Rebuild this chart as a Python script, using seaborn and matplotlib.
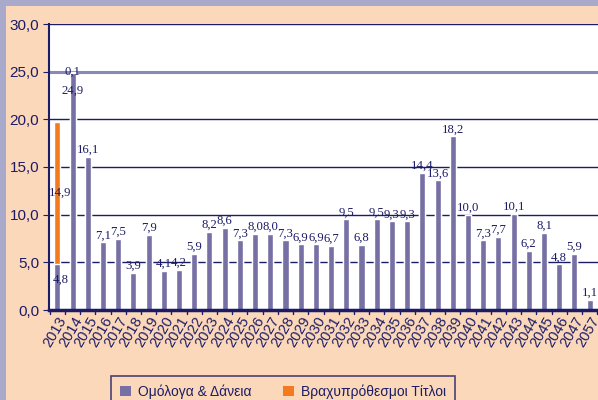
import pandas as pd
import matplotlib
matplotlib.use("Agg")
import matplotlib.pyplot as plt
import matplotlib.transforms as mtransforms
import seaborn as sns
from matplotlib.patches import Rectangle, Patch

# Data
years = ["2013", "2014", "2015", "2016", "2017", "2018", "2019", "2020", "2021",
         "2022", "2023", "2024", "2025", "2026", "2027", "2028", "2029", "2030",
         "2031", "2032", "2033", "2034", "2035", "2036", "2037", "2038", "2039",
         "2040", "2041", "2042", "2043", "2044", "2045", "2046", "2047", "2057"]
bonds = [4.8, 24.9, 16.1, 7.1, 7.5, 3.9, 7.9, 4.1, 4.2, 5.9, 8.2, 8.6, 7.3, 8.0,
         8.0, 7.3, 6.9, 6.9, 6.7, 9.5, 6.8, 9.5, 9.3, 9.3, 14.4, 13.6, 18.2, 10.0,
         7.3, 7.7, 10.1, 6.2, 8.1, 4.8, 5.9, 1.1]
tbills = [14.9, 0.1] + [0.0] * 34
series_names = ["Ομόλογα & Δάνεια", "Βραχυπρόθεσμοι Τίτλοι"]

df = pd.DataFrame({"year": years, "bonds": bonds, "tbills": tbills})
df["total"] = df["bonds"] + df["tbills"]

purple = "#7670a5"
orange = "#f47a20"
navy = "#1c1c66"
peach = "#fbd8b9"
lavender = "#a9a9cc"

sns.set_style("white")
fig = plt.figure(figsize=(5.98, 4.0), dpi=100)
fig.patch.set_facecolor(lavender)
fig.patches.append(Rectangle((6 / 598, 0), 1, 1 - 6 / 400, transform=fig.transFigure,
                             facecolor=peach, edgecolor="none", zorder=-10))
ax = fig.add_axes([49 / 598, 1 - 310 / 400, 1 - 49 / 598, (310 - 24) / 400])
ax.set_facecolor("white")

# stacked bars: total in orange, bonds drawn on top in purple
sns.barplot(data=df, x="year", y="total", color=orange, width=0.4,
            saturation=1, ax=ax, zorder=3)
sns.barplot(data=df, x="year", y="bonds", color=purple, width=0.4,
            saturation=1, ax=ax, zorder=4)

ax.set_ylim(0, 30)
ax.set_xlim(-0.55, len(years) - 0.45)
ax.set_yticks(range(0, 31, 5))
ax.set_yticklabels([f"{v:.1f}".replace(".", ",") for v in range(0, 31, 5)],
                   fontsize=11, color=navy, family="Liberation Sans")
for v in range(5, 31, 5):
    if v == 25:
        ax.axhline(v, color="#8a88b8", lw=2.2, zorder=1)
    else:
        ax.axhline(v, color=navy, lw=1.0, zorder=1)

ax.set_xticks(range(len(years)))
ax.set_xticklabels(years, rotation=60, ha="right", rotation_mode="anchor",
                   fontsize=10.5, color=navy, family="Liberation Sans")
shift = mtransforms.ScaledTranslation(5 / 100, 0, fig.dpi_scale_trans)
for t in ax.get_xticklabels():
    t.set_transform(t.get_transform() + shift)
ax.tick_params(axis="x", length=0, pad=3)
ax.tick_params(axis="y", length=4, color=navy, direction="out", left=True, pad=3)
for i in range(len(years) + 1):
    ax.plot([i - 0.5, i - 0.5], [0, -0.45], color=navy, lw=1, clip_on=False, zorder=5)
ax.set_xlabel("")
ax.set_ylabel("")

for side in ["top", "right"]:
    ax.spines[side].set_visible(False)
for side in ["left", "bottom"]:
    ax.spines[side].set_color(navy)
    ax.spines[side].set_zorder(6)
ax.spines["left"].set_linewidth(1.5)
ax.spines["bottom"].set_linewidth(2.5)

def fmt(v):
    return f"{v:.1f}".replace(".", ",")

lab = dict(fontsize=9.2, color=navy, family="Liberation Serif", ha="center", zorder=7)
for i, row in df.iterrows():
    b, t = row["bonds"], row["tbills"]
    if t >= 1:
        # labels inside the stacked segments, nudged right of the axis line
        ax.text(i + 0.2, b / 2 + 0.75, fmt(b), va="center", **lab)
        ax.text(i + 0.2, b + t / 2, fmt(t), va="center", **lab)
    elif t > 0:
        ax.text(i, b + t, fmt(t), va="center", **lab)
        ax.text(i, b - 1.9, fmt(b), va="center", **lab)
    else:
        ax.text(i, b + 0.1, fmt(b), va="bottom", **lab)

handles = [Patch(facecolor=purple, edgecolor="none", label=series_names[0]),
           Patch(facecolor=orange, edgecolor="none", label=series_names[1])]
leg = fig.legend(handles=handles, loc="lower center", bbox_to_anchor=(283 / 598, -0.035),
                 ncol=2, frameon=True, handlelength=0.8, handleheight=0.8,
                 columnspacing=2.3, handletextpad=0.5, borderpad=0.6,
                 prop={"family": "Liberation Sans", "size": 10})
leg.get_frame().set_edgecolor(navy)
leg.get_frame().set_facecolor(peach)
leg.get_frame().set_linewidth(1.2)
leg.get_frame().set_boxstyle("square", pad=0)
for txt in leg.get_texts():
    txt.set_color(navy)

fig.savefig("out.png", dpi=100, facecolor=fig.get_facecolor())
